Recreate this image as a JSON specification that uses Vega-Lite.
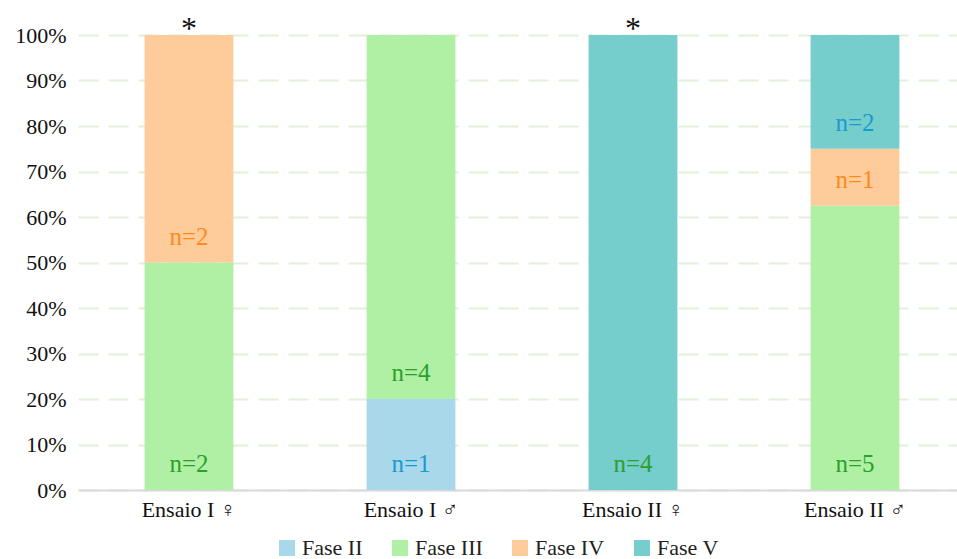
{
  "$schema": "https://vega.github.io/schema/vega-lite/v6.json",
  "autosize": {"type": "none"},
  "padding": {"left": 78, "top": 35, "right": 0, "bottom": 69},
  "width": 888,
  "height": 455,
  "background": "white",
  "config": {
    "view": {"stroke": null},
    "font": "'Times New Roman', 'Liberation Serif', serif",
    "axis": {"labelFont": "'Times New Roman', 'Liberation Serif', serif", "labelColor": "#111111", "titleFont": "'Times New Roman', 'Liberation Serif', serif"},
    "legend": {"labelFont": "'Times New Roman', 'Liberation Serif', serif"},
    "text": {"font": "'Times New Roman', 'Liberation Serif', serif"}
  },
  "data": {
    "values": [
      {"grupo": "Ensaio I ♀", "fase": "Fase III", "pct": 0.5, "n": "n=2", "tom": "verde", "sig": "*"},
      {"grupo": "Ensaio I ♀", "fase": "Fase IV", "pct": 0.5, "n": "n=2", "tom": "laranja", "sig": ""},
      {"grupo": "Ensaio I ♂", "fase": "Fase II", "pct": 0.2, "n": "n=1", "tom": "azul", "sig": ""},
      {"grupo": "Ensaio I ♂", "fase": "Fase III", "pct": 0.8, "n": "n=4", "tom": "verde", "sig": ""},
      {"grupo": "Ensaio II ♀", "fase": "Fase V", "pct": 1.0, "n": "n=4", "tom": "verde", "sig": "*"},
      {"grupo": "Ensaio II ♂", "fase": "Fase III", "pct": 0.625, "n": "n=5", "tom": "verde", "sig": ""},
      {"grupo": "Ensaio II ♂", "fase": "Fase IV", "pct": 0.125, "n": "n=1", "tom": "laranja", "sig": ""},
      {"grupo": "Ensaio II ♂", "fase": "Fase V", "pct": 0.25, "n": "n=2", "tom": "azul", "sig": ""}
    ]
  },
  "transform": [
    {"stack": "pct", "groupby": ["grupo"], "sort": [{"field": "fase", "order": "ascending"}], "as": ["y0", "y1"]}
  ],
  "encoding": {
    "x": {
      "field": "grupo",
      "type": "nominal",
      "sort": ["Ensaio I ♀", "Ensaio I ♂", "Ensaio II ♀", "Ensaio II ♂"],
      "scale": {"paddingInner": 0.6, "paddingOuter": 0.3},
      "axis": {
        "title": null,
        "labelAngle": 0,
        "labelFont": "'Times New Roman', 'Liberation Serif', 'Noto Sans CJK JP', serif",
        "labelFontSize": 22,
        "labelPadding": 9,
        "ticks": false,
        "domainColor": "#d9d9d9",
        "domainWidth": 2,
        "grid": false
      }
    }
  },
  "layer": [
    {
      "mark": {"type": "bar"},
      "encoding": {
        "y": {
          "field": "y1",
          "type": "quantitative",
          "scale": {"domain": [0, 1]},
          "axis": {
            "title": null,
            "format": ".0%",
            "values": [0, 0.1, 0.2, 0.3, 0.4, 0.5, 0.6, 0.7, 0.8, 0.9, 1.0],
            "labelFontSize": 22,
            "labelPadding": 12,
            "ticks": false,
            "domain": false,
            "grid": true,
            "gridColor": "#e2efd9",
            "gridWidth": 2,
            "gridDash": [20, 10]
          }
        },
        "y2": {"field": "y0"},
        "color": {
          "field": "fase",
          "type": "nominal",
          "scale": {
            "domain": ["Fase II", "Fase III", "Fase IV", "Fase V"],
            "range": ["#a8d8ea", "#b0f0a4", "#fecc9b", "#75cdcc"]
          },
          "legend": {
            "title": null,
            "orient": "none",
            "direction": "horizontal",
            "legendX": 198,
            "legendY": 502,
            "symbolType": "square",
            "symbolSize": 256,
            "symbolStrokeWidth": 0,
            "symbolOpacity": 1,
            "labelFontSize": 22,
            "labelColor": "#222222",
            "labelOffset": 4,
            "columnPadding": 26
          }
        }
      }
    },
    {
      "mark": {"type": "text", "fontSize": 25, "baseline": "middle", "align": "center", "dy": -26},
      "encoding": {
        "y": {"field": "y0", "type": "quantitative"},
        "text": {"field": "n"},
        "fill": {
          "field": "tom",
          "type": "nominal",
          "scale": {"domain": ["azul", "verde", "laranja"], "range": ["#1a9bd0", "#2ca02c", "#ff8a1c"]},
          "legend": null
        }
      }
    },
    {
      "transform": [{"filter": "datum.sig != ''"}],
      "mark": {"type": "text", "fontSize": 32, "baseline": "alphabetic", "align": "center", "color": "#111111", "dy": 4},
      "encoding": {
        "y": {"datum": 1, "type": "quantitative"},
        "text": {"field": "sig"}
      }
    }
  ],
  "resolve": {"scale": {"color": "independent", "fill": "independent"}}
}
